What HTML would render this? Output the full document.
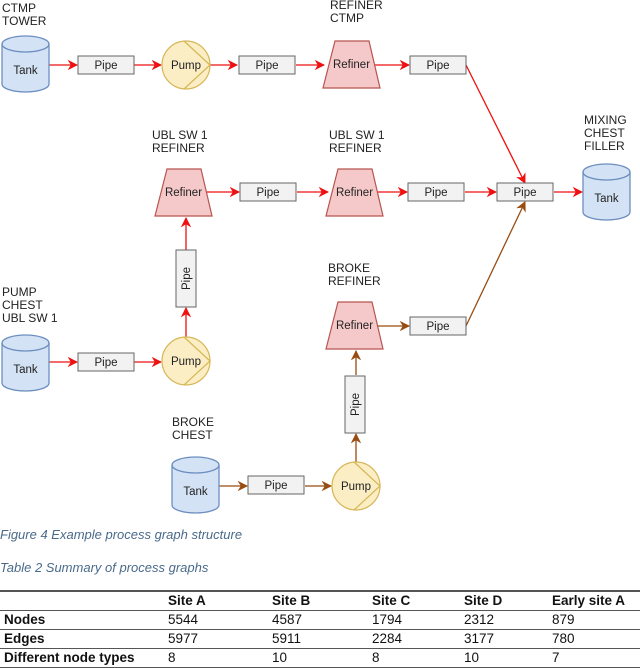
<!DOCTYPE html>
<html><head><meta charset="utf-8"><style>
body{margin:0;width:640px;height:667px;background:#fff;overflow:hidden;font-family:"Liberation Sans",Arial,sans-serif}
svg{position:absolute;left:0;top:0}
.cap{position:absolute;left:0;font-family:"Liberation Sans",sans-serif;font-style:italic;color:#4a6a8a;font-size:13px}
table{position:absolute;left:0;top:590px;width:640px;border-collapse:collapse;font-size:13.5px;color:#111}
td{padding:0 0 0 4px;height:18px;line-height:18px}
tr.h td{border-top:2px solid #555;border-bottom:1px solid #555;font-weight:bold}
tr td{border-bottom:1px solid #555}
td.b{font-weight:bold}
</style></head><body>
<svg width="640" height="530" viewBox="0 0 640 530" font-family="Liberation Sans, Arial, sans-serif">
<defs>
<marker id="ar" viewBox="0 0 10 10" refX="9" refY="5" markerWidth="8" markerHeight="8" orient="auto"><path d="M0,0 L10,5 L0,10 L3,5z" fill="#ee1111"/></marker>
<marker id="ab" viewBox="0 0 10 10" refX="9" refY="5" markerWidth="8" markerHeight="8" orient="auto"><path d="M0,0 L10,5 L0,10 L3,5z" fill="#994c11"/></marker>
<g id="tank"><path d="M0,8 A23.5,8 0 0 1 47,8 L47,48 A23.5,8 0 0 1 0,48Z" fill="#d3e3f5" stroke="#6c8ebf" stroke-width="1.3"/><path d="M0,8 A23.5,8 0 0 0 47,8" fill="none" stroke="#6c8ebf" stroke-width="1.3"/><text x="23.5" y="38" font-size="11.5" text-anchor="middle" fill="#222">Tank</text></g>
<g id="pipe"><rect x="0" y="0" width="56" height="18" fill="#f2f2f2" stroke="#666" stroke-width="1"/><text x="28" y="13" font-size="11.5" text-anchor="middle" fill="#222">Pipe</text></g>
<g id="pump"><circle cx="0" cy="0" r="24" fill="#fbeec4" stroke="#d6b656" stroke-width="1.2"/><path d="M-2,-24 L24,0 L-2,24" fill="none" stroke="#d6b656" stroke-width="1.2"/><text x="0" y="4" font-size="11.5" text-anchor="middle" fill="#222">Pump</text></g>
<g id="ref"><path d="M12,0 L46,0 L57,47 L0,47Z" fill="#f5c9c9" stroke="#b85450" stroke-width="1.2"/><text x="28.5" y="27" font-size="11.5" text-anchor="middle" fill="#222">Refiner</text></g>
<g id="vpipe"><rect x="0" y="0" width="20" height="57" fill="#f2f2f2" stroke="#666" stroke-width="1"/><text transform="translate(14,28.5) rotate(-90)" font-size="11.5" text-anchor="middle" fill="#222">Pipe</text></g>
</defs>
<g font-size="12" fill="#222">
<text x="2" y="12">CTMP</text><text x="2" y="25">TOWER</text>
<text x="330" y="9">REFINER</text><text x="330" y="22">CTMP</text>
<text x="152" y="139">UBL SW 1</text><text x="152" y="152">REFINER</text>
<text x="329" y="139">UBL SW 1</text><text x="329" y="152">REFINER</text>
<text x="584" y="124">MIXING</text><text x="584" y="137">CHEST</text><text x="584" y="150">FILLER</text>
<text x="2" y="296">PUMP</text><text x="2" y="309">CHEST</text><text x="2" y="322">UBL SW 1</text>
<text x="328" y="272">BROKE</text><text x="328" y="285">REFINER</text>
<text x="172" y="426">BROKE</text><text x="172" y="439">CHEST</text>
</g>
<g stroke="#ee1111" stroke-width="1.3" fill="none">
<line x1="49" y1="65" x2="77" y2="65" marker-end="url(#ar)"/>
<line x1="134" y1="65" x2="161" y2="65" marker-end="url(#ar)"/>
<line x1="210" y1="65" x2="237" y2="65" marker-end="url(#ar)"/>
<line x1="296" y1="65" x2="324" y2="65" marker-end="url(#ar)"/>
<line x1="373" y1="65" x2="409" y2="65" marker-end="url(#ar)"/>
<line x1="466" y1="65" x2="525" y2="183" marker-end="url(#ar)"/>
<line x1="207" y1="192" x2="239" y2="192" marker-end="url(#ar)"/>
<line x1="297" y1="192" x2="328" y2="192" marker-end="url(#ar)"/>
<line x1="378" y1="192" x2="407" y2="192" marker-end="url(#ar)"/>
<line x1="465" y1="192" x2="496" y2="192" marker-end="url(#ar)"/>
<line x1="554" y1="192" x2="582" y2="192" marker-end="url(#ar)"/>
<line x1="186" y1="250" x2="186" y2="218" marker-end="url(#ar)"/>
<line x1="186" y1="337" x2="186" y2="308" marker-end="url(#ar)"/>
<line x1="49" y1="362" x2="77" y2="362" marker-end="url(#ar)"/>
<line x1="134" y1="362" x2="161" y2="362" marker-end="url(#ar)"/>
</g>
<g stroke="#994c11" stroke-width="1.3" fill="none">
<line x1="219" y1="486" x2="247" y2="486" marker-end="url(#ab)"/>
<line x1="305" y1="486" x2="331" y2="486" marker-end="url(#ab)"/>
<line x1="356" y1="462" x2="356" y2="434" marker-end="url(#ab)"/>
<line x1="356" y1="375" x2="356" y2="351" marker-end="url(#ab)"/>
<line x1="378" y1="326" x2="409" y2="326" marker-end="url(#ab)"/>
<line x1="466" y1="326" x2="525" y2="202" marker-end="url(#ab)"/>
</g>
<use href="#tank" x="2" y="36"/>
<use href="#pipe" x="78" y="56"/>
<use href="#pump" x="186" y="65"/>
<use href="#pipe" x="239" y="56"/>
<use href="#ref" x="323" y="41"/>
<use href="#pipe" x="410" y="56"/>
<use href="#ref" x="155" y="169"/>
<use href="#pipe" x="240" y="183"/>
<use href="#ref" x="326" y="169"/>
<use href="#pipe" x="408" y="183"/>
<use href="#pipe" x="497" y="183"/>
<use href="#tank" x="583" y="164"/>
<use href="#vpipe" x="176" y="250"/>
<use href="#pump" x="186" y="361"/>
<use href="#tank" x="2" y="335"/>
<use href="#pipe" x="78" y="353"/>
<use href="#ref" x="326" y="302"/>
<use href="#pipe" x="410" y="317"/>
<use href="#vpipe" x="345" y="376"/>
<use href="#pump" x="356" y="486"/>
<use href="#tank" x="172" y="457"/>
<use href="#pipe" x="248" y="476"/>
</svg>
<div class="cap" style="top:527px">Figure 4 Example process graph structure</div>
<div class="cap" style="top:560px">Table 2 Summary of process graphs</div>
<table>
<tr class="h"><td style="width:160px"></td><td style="width:100px">Site A</td><td style="width:96px">Site B</td><td style="width:88px">Site C</td><td style="width:84px">Site D</td><td>Early site A</td></tr>
<tr><td class="b">Nodes</td><td>5544</td><td>4587</td><td>1794</td><td>2312</td><td>879</td></tr>
<tr><td class="b">Edges</td><td>5977</td><td>5911</td><td>2284</td><td>3177</td><td>780</td></tr>
<tr><td class="b">Different node types</td><td>8</td><td>10</td><td>8</td><td>10</td><td>7</td></tr>
</table>
</body></html>
